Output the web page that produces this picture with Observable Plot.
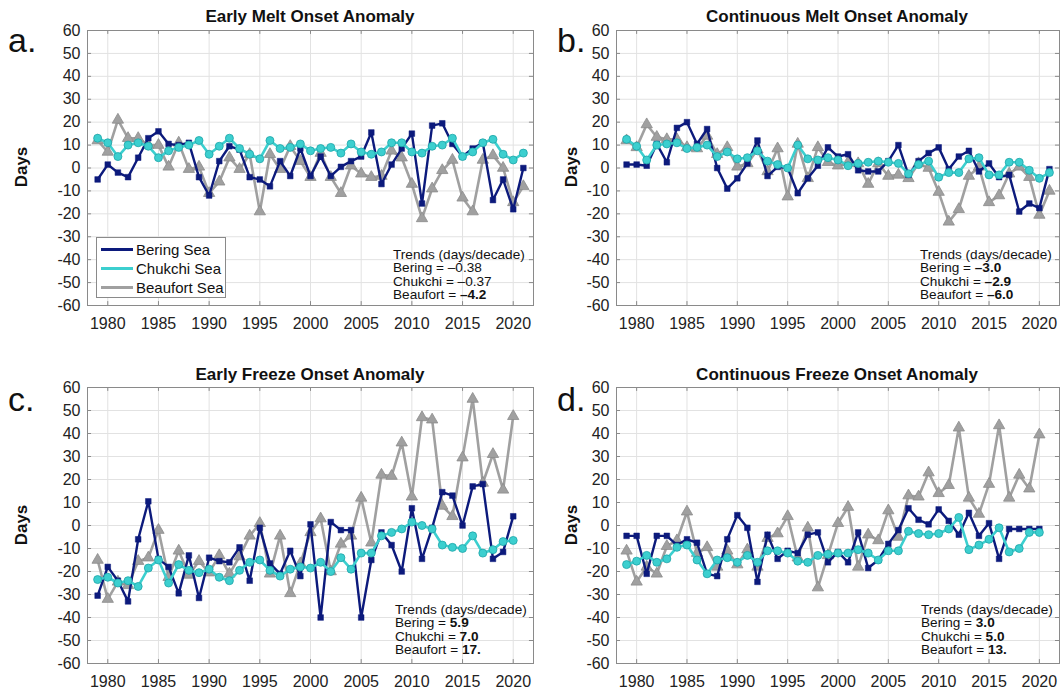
<!DOCTYPE html>
<html><head><meta charset="utf-8">
<script src="https://cdn.jsdelivr.net/npm/d3@7"></script>
<script src="https://cdn.jsdelivr.net/npm/@observablehq/plot@0.6"></script>
<style>
body{margin:0;background:#fff;font-family:"Liberation Sans",Arial,Helvetica,sans-serif;}
#wrap{position:relative;width:1063px;height:689px;overflow:hidden;background:#fff;}
.abs{position:absolute;}
.title{font-weight:bold;font-size:17px;color:#111;transform:translateX(-50%);white-space:nowrap;line-height:20px;}
.letter{font-size:34px;color:#111;line-height:34px;}
.ylab{font-weight:bold;font-size:17px;color:#111;transform:translate(-50%,-50%) rotate(-90deg);white-space:nowrap;}
.trend{font-size:13.6px;line-height:13.3px;color:#111;white-space:nowrap;}
.legend{background:#fff;border:1px solid #8a8a8a;font-size:15px;color:#111;}
.lrow{position:absolute;left:0;height:19px;line-height:19px;white-space:nowrap;}
.lrow span.sw{position:absolute;left:4px;top:8px;width:32px;height:3px;}
.lrow span.tx{position:absolute;left:39px;top:0;}
</style></head><body><div id="wrap"></div>
<script>
// ---------- data ----------
const meltYears = d3.range(1979, 2022);   // 1979..2021
const freezeYears = d3.range(1979, 2021); // 1979..2020
const xTicks = [1980, 1985, 1990, 1995, 2000, 2005, 2010, 2015, 2020];
const yTicks = [-60, -50, -40, -30, -20, -10, 0, 10, 20, 30, 40, 50, 60];
const seriesNames = ["Bering Sea", "Chukchi Sea", "Beaufort Sea"];

// a. Early Melt Onset Anomaly
const earlyMeltBering = [-5,1.5,-2,-4,4.5,13,16,10.5,10,11, -4,-12,3,9.5,8,-4,-5,-8,3,-3.5, 8.5,-3.5,5,-3.5,0.5,3,5,15.5,-7,1.5, 8.5,15,-15.5,18.5,19.5,10.5,5,8.5,11,-14, -5,-18,0];
const earlyMeltChukchi = [13,11,5,10,11,9.5,4.5,7.5,9,10, 12,6,9.5,13,8.5,6,4,12,8.5,9, 10.5,7.5,8.5,9,6.5,10.5,7,6,7,11, 11,7,6.5,9.5,10,13,5,7,11,12.5, 6,3.5,6.5];
const earlyMeltBeaufort = [12,7,21,13,13,10,10,0.5,11,-0.5, 0.5,-11,-6,4.5,-0.5,6,-19,6,-0.5,9.5, 3,-4,6.5,-4,-11,1,-2.5,-4,-3.5,7.5, 4.5,-7,-22,-9,-1,3.5,-13,-19,3.5,5.5, 0,-15,-8];

// b. Continuous Melt Onset Anomaly
const contMeltBering = [1.5,1.5,1,10.5,2.5,17.5,20,10.5,17,0, -9,-4.5,2,12,-3.5,0.5,0,-11,-4.5,1, 9,5,6,-1,-1.5,-1.5,3,10,-3,3, 6.5,9,-0.5,5,7.5,-1.5,2,-4,-3,-19, -15.5,-17.5,-0.5];
const contMeltChukchi = [12.5,9.5,3.5,10,10.5,11,8.5,9,10,5, 7,4,4.5,7.5,3,1.5,0,10,4,3.5, 4.5,3.5,1,2,2.5,3,2.5,2,-2.5,1.5, 3,-4,-2,-2,4,4.5,-3,-3,2.5,2.5, -1,-4.5,-2];
const contMeltBeaufort = [12,9,19,13.5,12.5,12.5,9,8.5,14,6, 9,0.5,2,8,-1.5,8.5,-12.5,10.5,-4.5,9, 2.5,1,2.5,2,-7,2,-3.5,-3,-4.5,2, 0,-10.5,-23.5,-18,-3.5,0.5,-15,-12,-2.5,0.5, -4,-20.5,-10];

// c. Early Freeze Onset Anomaly
const earlyFreezeBering = [-30.5,-18,-24,-33,-6,10.5,-14.5,-18,-29.5,-13, -31.5,-14,-15.5,-16,-9.5,-24,-1,-16.5,-21,-11, -22,0.5,-40,1.5,-2,-2,-40,-15,-3,-8.5, -20,7.5,-14.5,-1,14.5,13,0,17,18,-14.5, -11.5,4];
const earlyFreezeChukchi = [-23.5,-22.5,-25,-24,-26.5,-18.5,-15,-25,-17,-19.5, -20.5,-19,-22.5,-24,-19.5,-16,-15,-19.5,-22,-19, -18,-18.5,-16,-20,-14,-19,-12,-12,-4.5,-3, -1.5,1.5,0,-1.5,-8.5,-9.5,-10,-4.5,-12,-10.5, -7,-6.5];
const earlyFreezeBeaufort = [-15,-32,-24.5,-26,-15.5,-14,-2,-22.5,-11,-21.5, -15.5,-20.5,-13,-21,-13.5,-4.5,1,-21,-4.5,-29.5, -16.5,-3,3,-20,-8,-4.5,12,-7.5,22,21.5, 36,12.5,47,46,8.5,4,29.5,55,18.5,31, 15.5,47.5];

// d. Continuous Freeze Onset Anomaly
const contFreezeBering = [-4.5,-4.5,-21,-4.5,-4.5,-8.5,-6,-7.5,-21,-22, -6,4.5,-1,-24.5,-4,-14.5,-11,-12,-4,-3, -16,-11.5,-16,-3,-18.5,-15,-8,-2,7.5,2.5, 0.5,7,2,-4,5.5,-4.5,1,-14.5,-1.5,-1.5, -1.5,-1.5];
const contFreezeChukchi = [-17,-15.5,-13,-16,-14.5,-9.5,-8.5,-15,-21,-15, -14,-16,-13,-16,-11,-11,-12,-15.5,-16,-13, -12.5,-12,-12,-10.5,-12,-15,-11,-11,-2.5,-3.5, -4,-3.5,-1.5,3.5,-10.5,-8.5,-6,-1,-11.5,-10, -3,-3];
const contFreezeBeaufort = [-11,-24.5,-18,-21,-9,-6.5,6,-12,-9.5,-18, -11,-17,-10.5,-18,-5.5,-3.5,4,-14,-1,-27, -13,1,8,-18,-4,-6.5,6.5,-5,13,12.5, 23,14,17.5,42.5,12,5,18,43.5,12,22, 16,39.5];

const panelTitles = ["Early Melt Onset Anomaly", "Continuous Melt Onset Anomaly", "Early Freeze Onset Anomaly", "Continuous Freeze Onset Anomaly"];
const panelLetters = ["a.", "b.", "c.", "d."];
const trendLines = [
  [["Bering = ", "\u20130.38", false], ["Chukchi = ", "\u20130.37", false], ["Beaufort = ", "\u20134.2", true]],
  [["Bering = ", "\u20133.0", true], ["Chukchi = ", "\u20132.9", true], ["Beaufort = ", "\u20136.0", true]],
  [["Bering = ", "5.9", true], ["Chukchi = ", "7.0", true], ["Beaufort = ", "17.", true]],
  [["Bering = ", "3.0", true], ["Chukchi = ", "5.0", true], ["Beaufort = ", "13.", true]]
];

// ---------- styles ----------
const colors = {bering: "#0c1a7c", chukchi: "#3ccfcf", chukchiEdge: "#1ea5a8", beaufort: "#a0a0a0", beaufortEdge: "#8c8c8c"};
const wrap = document.getElementById("wrap");

function toRows(years, vals) { return years.map((y, i) => ({year: y, value: vals[i]})); }

function makePanel(years, bering, chukchi, beaufort, left, top, height) {
  const width = left === 0 ? 541 : 538;
  const b = toRows(years, bering), c = toRows(years, chukchi), f = toRows(years, beaufort);
  const tickStroke = "#8a8a8a";
  const svg = Plot.plot({
    width, height,
    marginLeft: 87, marginRight: 8, marginTop: 30, marginBottom: height - 30 - (height === 340 ? 275 : 276),
    style: {fontFamily: "'Liberation Sans', Arial, sans-serif", fontSize: "16px", color: "#222", background: "transparent"},
    x: {domain: [1978, 2022]},
    y: {domain: [-60, 60]},
    marks: [
      Plot.gridX(xTicks, {stroke: "#e2e2e2", strokeOpacity: 1}),
      Plot.gridY(yTicks, {stroke: "#e2e2e2", strokeOpacity: 1}),
      Plot.ruleX(xTicks, {y1: 60, y2: 58.3, stroke: tickStroke}),
      Plot.ruleX(xTicks, {y1: -60, y2: -58.3, stroke: tickStroke}),
      Plot.ruleY(yTicks, {x1: 1978, x2: 1978.4, stroke: tickStroke}),
      Plot.ruleY(yTicks, {x1: 2022, x2: 2021.6, stroke: tickStroke}),
      Plot.axisX(xTicks, {tickSize: 0, tickPadding: 12, tickFormat: d => String(d), label: null, fontSize: 16}),
      Plot.axisY(yTicks, {tickSize: 0, tickPadding: 7, tickFormat: d => String(d), label: null, fontSize: 16}),
      Plot.line(f, {x: "year", y: "value", stroke: colors.beaufort, strokeWidth: 2.6}),
      Plot.dot(f, {x: "year", y: "value", symbol: "triangle", r: 4.2, fill: colors.beaufort, stroke: colors.beaufortEdge, strokeWidth: 0.8}),
      Plot.line(b, {x: "year", y: "value", stroke: colors.bering, strokeWidth: 2.4}),
      Plot.dot(b, {x: "year", y: "value", symbol: "square", r: 3.2, fill: colors.bering, stroke: colors.bering, strokeWidth: 0.5}),
      Plot.line(c, {x: "year", y: "value", stroke: colors.chukchi, strokeWidth: 2.6}),
      Plot.dot(c, {x: "year", y: "value", symbol: "circle", r: 4, fill: colors.chukchi, stroke: colors.chukchiEdge, strokeWidth: 0.8}),
      Plot.frame({stroke: "#8a8a8a", strokeWidth: 1})
    ]
  });
  svg.style.position = "absolute";
  svg.style.left = left + "px";
  svg.style.top = top + "px";
  wrap.appendChild(svg);
}

makePanel(meltYears, earlyMeltBering, earlyMeltChukchi, earlyMeltBeaufort, 0, 0, 340);
makePanel(meltYears, contMeltBering, contMeltChukchi, contMeltBeaufort, 529, 0, 340);
makePanel(freezeYears, earlyFreezeBering, earlyFreezeChukchi, earlyFreezeBeaufort, 0, 357, 341);
makePanel(freezeYears, contFreezeBering, contFreezeChukchi, contFreezeBeaufort, 529, 357, 341);

function addDiv(cls, html, left, top) {
  const d = document.createElement("div");
  d.className = "abs " + cls;
  d.innerHTML = html;
  d.style.left = left + "px";
  d.style.top = top + "px";
  wrap.appendChild(d);
  return d;
}

// titles, letters, axis labels, trends
const titlePos = [[310, 7], [837, 7], [310, 365], [837, 365]];
const letterPos = [[8, 23], [557, 23], [8, 382], [557, 382]];
const ylabPos = [[22, 167], [572, 167], [22, 525], [572, 525]];
const trendPos = [[393, 248], [920, 248], [395, 603], [921, 603]];
for (let i = 0; i < 4; i++) {
  addDiv("title", panelTitles[i], titlePos[i][0], titlePos[i][1]);
  addDiv("letter", panelLetters[i], letterPos[i][0], letterPos[i][1]);
  addDiv("ylab", "Days", ylabPos[i][0], ylabPos[i][1]);
  const lines = ["Trends (days/decade)"].concat(trendLines[i].map(([a, v, bold]) => a + (bold ? "<b>" + v + "</b>" : v)));
  addDiv("trend", lines.join("<br>"), trendPos[i][0], trendPos[i][1]);
}

// legend (panel a)
const leg = addDiv("legend", "", 96, 237);
leg.style.width = "128px";
leg.style.height = "59px";
const legColors = [colors.bering, colors.chukchi, colors.beaufort];
seriesNames.forEach((name, i) => {
  const r = document.createElement("div");
  r.className = "lrow";
  r.style.top = (2 + i * 19) + "px";
  r.innerHTML = `<span class="sw" style="background:${legColors[i]}"></span><span class="tx">${name}</span>`;
  leg.appendChild(r);
});
</script></body></html>
